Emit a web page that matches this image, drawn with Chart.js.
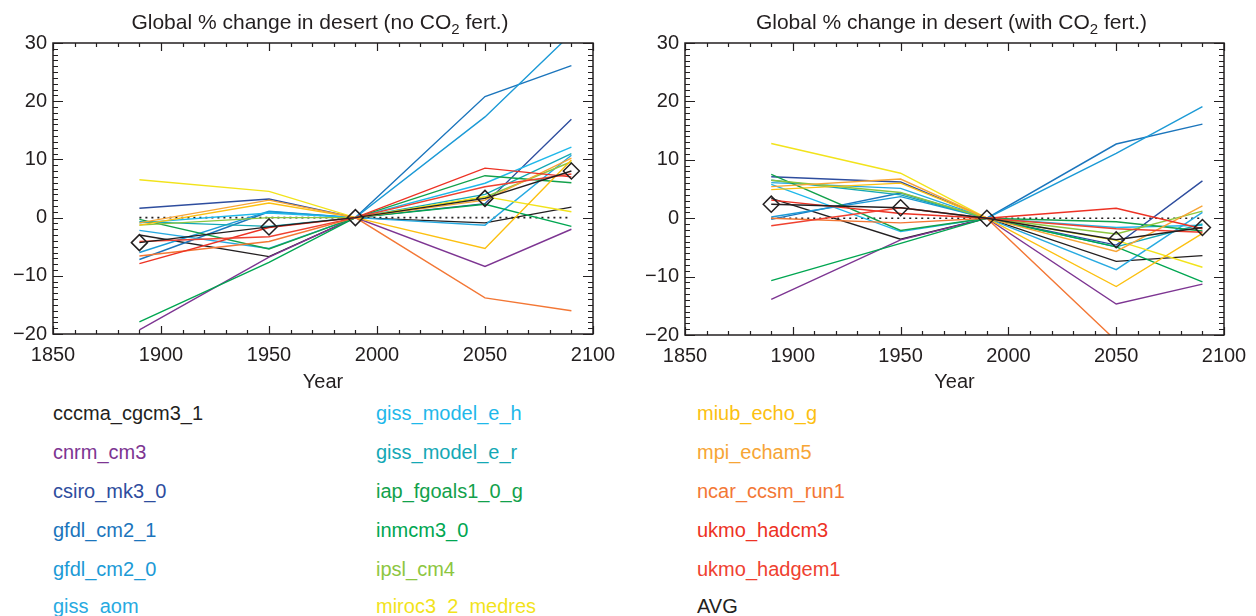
<!DOCTYPE html>
<html>
<head>
<meta charset="utf-8">
<script src="https://cdn.jsdelivr.net/npm/chart.js@4.4.0/dist/chart.umd.min.js"></script>
<style>
  body { margin: 0; background: #fff; width: 1256px; height: 616px; overflow: hidden; position: relative;
         font-family: "Liberation Sans", Arial, sans-serif; }
  canvas { position: absolute; top: 0; }
  #key div { position: absolute; font-size: 20px; line-height: 22px; white-space: nowrap; }
</style>
</head>
<body>
<canvas id="noFert" width="628" height="395" style="left:0"></canvas>
<canvas id="withFert" width="628" height="395" style="left:628px"></canvas>
<div id="key"></div>
<script>
const ink = '#231f20';
const years = [1890, 1950, 1990, 2050, 2090];
const yTicks = [-20, -10, 0, 10, 20, 30];
const xTicks = [1850, 1900, 1950, 2000, 2050, 2100];

const models = ['cccma_cgcm3_1', 'cnrm_cm3', 'csiro_mk3_0', 'gfdl_cm2_1', 'gfdl_cm2_0', 'giss_aom',
  'giss_model_e_h', 'giss_model_e_r', 'iap_fgoals1_0_g', 'inmcm3_0', 'ipsl_cm4', 'miroc3_2_medres',
  'miub_echo_g', 'mpi_echam5', 'ncar_ccsm_run1', 'ukmo_hadcm3', 'ukmo_hadgem1'];
const colors = ['#231f20', '#7d3592', '#2e4d9e', '#1b75bc', '#1c9ad6', '#27aae1',
  '#1fb8ea', '#14a8b5', '#12a14b', '#00a651', '#8dc63f', '#f2e31b',
  '#fcc010', '#f7a535', '#f37735', '#ed3224', '#ef4130'];

// % change in desert area, one row per model, values at `years`
const noFertValues = [
  [-3.0, -6.7, 0, -0.9, 1.8],
  [-19.3, -6.8, 0, -8.4, -2.0],
  [1.6, 3.2, 0, 2.4, 16.9],
  [-7.2, 1.0, 0, 20.8, 26.1],
  [-6.0, 1.1, 0, 17.3, 31.6],
  [-2.2, -5.3, 0, -1.3, 10.7],
  [-0.9, 0.8, 0, 5.9, 12.1],
  [-0.7, -1.5, 0, 4.0, 11.0],
  [-0.3, -5.4, 0, 7.2, 6.0],
  [-17.9, -7.7, 0, 2.3, -1.5],
  [-1.3, 0.0, 0, 3.5, 9.6],
  [6.5, 4.5, 0, 3.6, 1.0],
  [-1.3, 2.5, 0, -5.3, 9.9],
  [-0.9, 3.0, 0, 3.0, 10.2],
  [-6.6, -4.1, 0, -13.8, -16.0],
  [-7.9, -1.7, 0, 8.5, 7.0],
  [-4.1, -3.3, 0, 5.3, 7.5]
];
const noFertAvg = [-4.3, -1.6, 0, 3.3, 8.0];

const withFertValues = [
  [3.4, -3.6, 0, -7.4, -6.4],
  [-13.9, -3.7, 0, -14.7, -11.3],
  [7.1, 6.2, 0, -4.6, 6.4],
  [-0.2, 4.3, 0, 12.7, 16.1],
  [0.2, 3.7, 0, 11.1, 19.1],
  [6.1, 5.1, 0, -8.8, 1.0],
  [5.8, -2.3, 0, -1.6, -1.2],
  [6.5, 4.0, 0, -4.9, -1.0],
  [7.5, -2.1, 0, -0.6, -2.2],
  [-10.7, -4.3, 0, -4.9, -10.9],
  [6.5, 4.4, 0, -2.7, 1.2],
  [12.8, 7.7, 0, -3.8, -8.4],
  [4.9, 6.0, 0, -11.7, -2.6],
  [5.4, 6.7, 0, -5.7, 2.1],
  [0.0, -0.8, 0, -21.0, -23.0],
  [3.1, 0.8, 0, 1.7, -1.8],
  [-1.3, 1.8, 0, -1.8, -2.4]
];
const withFertAvg = [2.4, 1.8, 0, -3.7, -1.6];

const toPoints = vals => vals.map((v, i) => ({ x: years[i], y: v }));

// box round the plot with IDL style inward ticks, plus the title with a subscript
const frame = {
  id: 'frame',
  afterDraw(chart, args, opts) {
    const { ctx, chartArea: a, scales: { x, y } } = chart;
    ctx.save();
    ctx.strokeStyle = ink;
    ctx.lineWidth = 1.5;
    ctx.strokeRect(a.left, a.top, a.right - a.left, a.bottom - a.top);
    ctx.beginPath();
    for (let yr = 1850; yr <= 2100; yr += 10) {
      const px = Math.round(x.getPixelForValue(yr)) + 0.5;
      const len = yr % 50 === 0 ? 8 : 4;
      ctx.moveTo(px, a.bottom); ctx.lineTo(px, a.bottom - len);
      ctx.moveTo(px, a.top); ctx.lineTo(px, a.top + len);
    }
    for (let v = -20; v <= 30; v += 1) {
      const py = Math.round(y.getPixelForValue(v)) + 0.5;
      const len = v % 10 === 0 ? 10 : 5;
      ctx.moveTo(a.left, py); ctx.lineTo(a.left + len, py);
      ctx.moveTo(a.right, py); ctx.lineTo(a.right - len, py);
    }
    ctx.lineWidth = 1.2;
    ctx.stroke();

    const [head, sub, tail] = opts.title;
    const big = '21px "Liberation Sans", Arial, sans-serif';
    const small = '15px "Liberation Sans", Arial, sans-serif';
    ctx.fillStyle = ink;
    ctx.textBaseline = 'alphabetic';
    ctx.font = big;
    const w1 = ctx.measureText(head).width, w3 = ctx.measureText(tail).width;
    ctx.font = small;
    const w2 = ctx.measureText(sub).width;
    let tx = (a.left + a.right) / 2 - (w1 + w2 + w3) / 2 - 3;
    ctx.font = big;
    ctx.fillText(head, tx, 29);
    ctx.font = small;
    ctx.fillText(sub, tx + w1, 34);
    ctx.font = big;
    ctx.fillText(tail, tx + w1 + w2, 29);
    ctx.restore();
  }
};

function makeChart(id, values, avg, title, axisWidth, rightPad, axisHeight) {
  const datasets = [{
    data: [{ x: years[0], y: 0 }, { x: years[years.length - 1], y: 0 }],
    borderColor: ink, borderWidth: 1.6, borderDash: [2, 4], pointRadius: 0, order: 100
  }];
  values.forEach((row, i) => datasets.push({
    label: models[i], data: toPoints(row), borderColor: colors[i],
    borderWidth: 1.4, pointRadius: 0, order: models.length - i
  }));
  datasets.push({
    label: 'AVG', data: toPoints(avg), borderColor: ink, borderWidth: 1.4,
    pointStyle: 'rectRot', pointRadius: 8, pointBorderWidth: 1.5,
    pointBorderColor: ink, pointBackgroundColor: 'rgba(255,255,255,0)', order: -1
  });

  return new Chart(document.getElementById(id), {
    type: 'line',
    data: { datasets },
    plugins: [frame],
    options: {
      responsive: false,
      animation: false,
      devicePixelRatio: 1,
      layout: { padding: { top: 43, right: rightPad, left: 0, bottom: 0 } },
      plugins: { legend: { display: false }, tooltip: { enabled: false }, frame: { title } },
      scales: {
        x: {
          type: 'linear', min: 1850, max: 2100,
          afterBuildTicks: s => { s.ticks = xTicks.map(v => ({ value: v })); },
          afterFit: s => { s.height = axisHeight; },
          grid: { display: false, drawTicks: false },
          border: { display: false },
          ticks: { color: ink, font: { size: 20, family: '"Liberation Sans", Arial' }, padding: 9,
                   maxRotation: 0, callback: v => String(v) },
          title: { display: true, text: 'Year', color: ink, padding: { top: 2, bottom: 1 },
                   font: { size: 20, family: '"Liberation Sans", Arial' } }
        },
        y: {
          min: -20, max: 30,
          afterBuildTicks: s => { s.ticks = yTicks.map(v => ({ value: v })); },
          afterFit: s => { s.width = axisWidth; },
          grid: { display: false, drawTicks: false },
          border: { display: false },
          ticks: { color: ink, font: { size: 20, family: '"Liberation Sans", Arial' }, padding: 6,
                   callback: v => String(v).replace('-', '\u2212') }
        }
      }
    }
  });
}

makeChart('noFert', noFertValues, noFertAvg,
  ['Global % change in desert (no CO', '2', ' fert.)'], 53, 35, 61);
makeChart('withFert', withFertValues, withFertAvg,
  ['Global % change in desert (with CO', '2', ' fert.)'], 57, 32, 60);

// model key in three columns of six
const keyNames = models.concat(['AVG']);
const keyColors = colors.concat([ink]);
const keyCols = [53, 376, 697];
const keyRows = [413, 452, 491, 530, 569, 606];
const key = document.getElementById('key');
keyNames.forEach((name, i) => {
  const d = document.createElement('div');
  d.textContent = name;
  d.style.color = keyColors[i];
  d.style.left = keyCols[Math.floor(i / 6)] + 'px';
  d.style.top = (keyRows[i % 6] - 11) + 'px';
  key.appendChild(d);
});
</script>
</body>
</html>
